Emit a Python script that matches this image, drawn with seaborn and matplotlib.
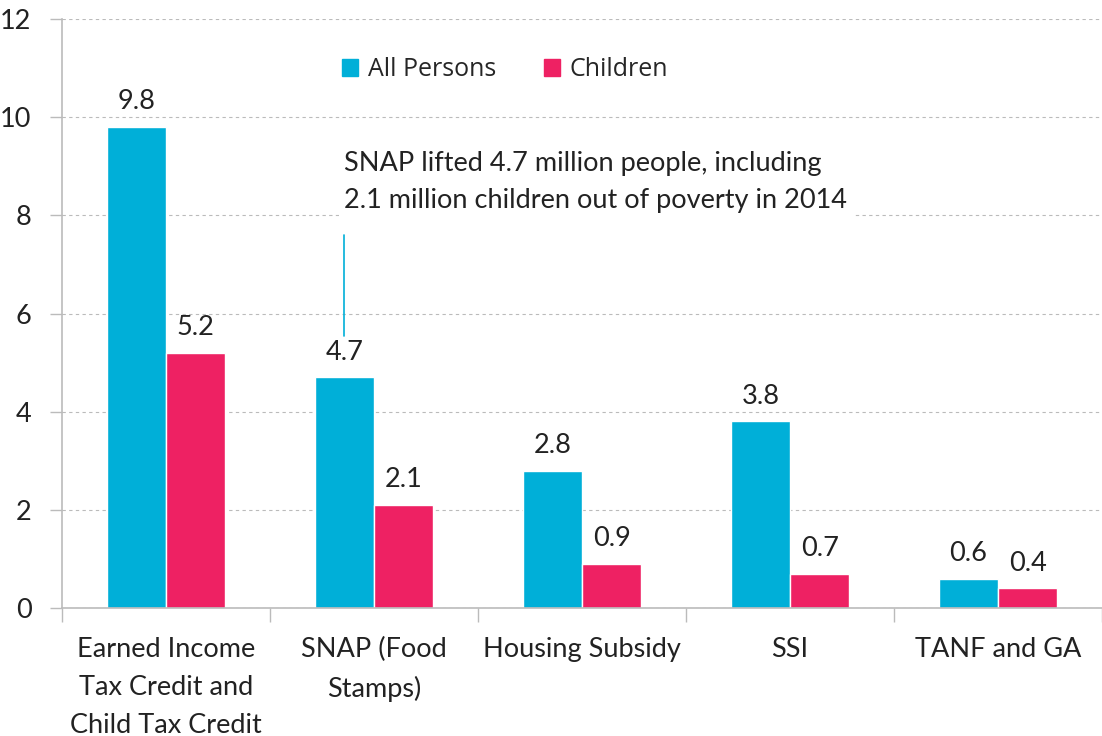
import pandas as pd
import matplotlib.pyplot as plt
import seaborn as sns

programs = ["Earned Income\nTax Credit and\nChild Tax Credit", "SNAP (Food\nStamps)",
            "Housing Subsidy", "SSI", "TANF and GA"]
all_persons = [9.8, 4.7, 2.8, 3.8, 0.6]
children = [5.2, 2.1, 0.9, 0.7, 0.4]
groups = ["All Persons", "Children"]
colors = ["#00AFD8", "#EE2163"]
note = "SNAP lifted 4.7 million people, including\n2.1 million children out of poverty in 2014"

df = pd.DataFrame({
    "program": programs * 2,
    "value": all_persons + children,
    "group": [groups[0]] * len(programs) + [groups[1]] * len(programs),
})

sns.set_style("white")
plt.rcParams["font.family"] = ["Lato", "DejaVu Sans"]

fig = plt.figure(figsize=(11.02, 7.36), dpi=100)
ax = fig.add_axes([62 / 1102, 1 - 608 / 736, 1 - 62 / 1102, (608 - 19) / 736])

sns.barplot(data=df, x="program", y="value", hue="group", palette=colors,
            width=0.57, gap=0, saturation=1, ax=ax, legend=False)

for c in ax.containers:
    ax.bar_label(c, fmt="%.1f", padding=9, fontsize=19.5, color="#222222")

ax.set_ylim(0, 12)
ax.set_xlim(-0.5, 4.452)
ax.set_yticks(range(0, 13, 2))
ax.set_xlabel("")
ax.set_ylabel("")
ax.yaxis.grid(True, linestyle=(0, (3, 3)), color="#BBBBBB", linewidth=0.8)
ax.set_axisbelow(True)

# category ticks at group boundaries, labels centered
ax.set_xticks([i - 0.5 for i in range(len(programs) + 1)], minor=False)
ax.set_xticklabels([""] * (len(programs) + 1))
ax.set_xticks(range(len(programs)), minor=True)
ax.set_xticklabels(programs, minor=True, fontsize=19.5, color="#222222", linespacing=1.65)
ax.tick_params(axis="x", which="major", length=10, width=1, color="#BBBBBB", direction="out", bottom=True)
ax.tick_params(axis="x", which="minor", length=0, pad=21)
ax.tick_params(axis="y", length=9, width=1, color="#BBBBBB", direction="out", left=True,
               labelsize=19.5, labelcolor="#222222", pad=13)

for s in ["top", "right"]:
    ax.spines[s].set_visible(False)
for s in ["left", "bottom"]:
    ax.spines[s].set_color("#BBBBBB")
    ax.spines[s].set_linewidth(1.2)

# legend
handles = [plt.Rectangle((0, 0), 1, 1, color=c) for c in colors]
ax.legend(handles, groups, ncol=2, frameon=False, loc="center",
          bbox_to_anchor=(505 / 1102, 1 - 70 / 736), bbox_transform=fig.transFigure,
          handlelength=0.65, handleheight=0.65, handletextpad=0.4, columnspacing=1.9,
          prop={"family": ["Open Sans", "DejaVu Sans"], "size": 18})

# annotation
snap_x = 1 - 0.57 / 4
ax.plot([snap_x, snap_x], [5.55, 7.6], color=colors[0], linewidth=1.2)
ax.text(snap_x, 8.68, note, fontsize=19.5, color="#222222", va="center", ha="left",
        linespacing=1.6, bbox=dict(facecolor="white", edgecolor="none", pad=4))

fig.savefig("out.png", dpi=100)
